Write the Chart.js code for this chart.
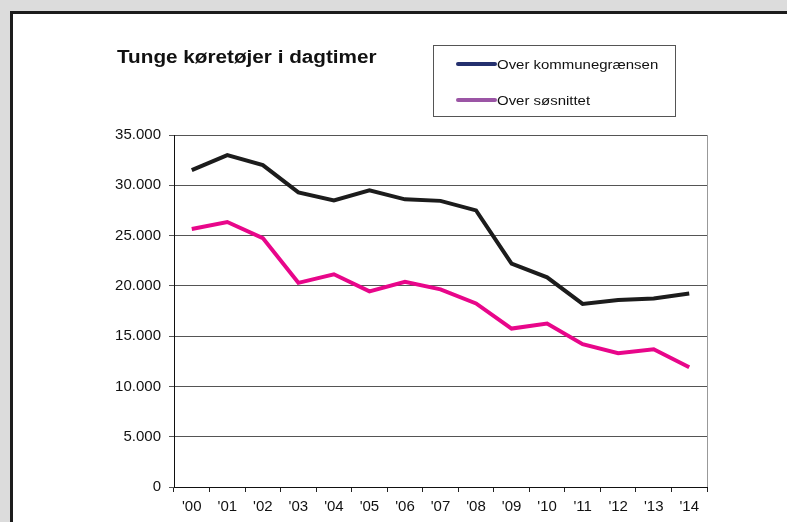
<!DOCTYPE html>
<html lang="da">
<head>
    <meta charset="UTF-8">
    <title>Tunge køretøjer i dagtimer</title>
    <script src="https://cdn.jsdelivr.net/npm/chart.js"></script>
    <style>
        body {
            margin: 0;
            padding: 0;
            background: #dcdcdc;
            width: 787px;
            height: 522px;
            overflow: hidden;
            position: relative;
        }
        #panel {
            position: absolute;
            left: 10px;
            top: 11px;
            width: 800px;
            height: 530px;
            background: #fff;
            border-left: 3px solid #1c1c1c;
            border-top: 3px solid #1c1c1c;
        }
        canvas {
            position: absolute;
            left: 0;
            top: 0;
        }
    </style>
</head>
<body>
    <div id="panel"></div>
    <canvas id="chart" width="787" height="522"></canvas>
    <script>
        const chartTitle = 'Tunge køretøjer i dagtimer';
        const years = ["'00", "'01", "'02", "'03", "'04", "'05", "'06", "'07", "'08", "'09", "'10", "'11", "'12", "'13", "'14"];
        const overKommunegraensen = [31500, 33000, 32000, 29300, 28500, 29500, 28600, 28450, 27500, 22200, 20850, 18200, 18600, 18750, 19250];
        const overSoesnittet = [25650, 26350, 24750, 20300, 21150, 19450, 20400, 19650, 18250, 15750, 16250, 14200, 13300, 13700, 11900];

        // thousands with a dot, danish style
        function fmt(v) {
            return String(v).replace(/\B(?=(\d{3})+(?!\d))/g, '.');
        }

        // title, boxed legend and right frame line
        const decor = {
            id: 'decor',
            afterDraw(chart) {
                const ctx = chart.ctx;
                const area = chart.chartArea;
                ctx.save();

                ctx.strokeStyle = '#999';
                ctx.lineWidth = 1;
                ctx.beginPath();
                ctx.moveTo(area.right + 0.5, area.top);
                ctx.lineTo(area.right + 0.5, area.bottom);
                ctx.stroke();

                ctx.fillStyle = '#111';
                ctx.font = 'bold 18px "Liberation Sans", Arial, sans-serif';
                ctx.textBaseline = 'alphabetic';
                ctx.save();
                ctx.translate(117, 63);
                ctx.scale(1.15, 1);
                ctx.fillText(chartTitle, 0, 0);
                ctx.restore();

                ctx.strokeStyle = '#555';
                ctx.strokeRect(433.5, 45.5, 242, 71);

                ctx.font = '13px "Liberation Sans", Arial, sans-serif';
                ctx.textBaseline = 'middle';
                chart.data.datasets.forEach((ds, i) => {
                    const y = 64 + i * 36;
                    ctx.strokeStyle = ds.legendColor;
                    ctx.lineWidth = 4;
                    ctx.lineCap = 'round';
                    ctx.beginPath();
                    ctx.moveTo(458, y);
                    ctx.lineTo(495, y);
                    ctx.stroke();
                    ctx.fillStyle = '#111';
                    ctx.save();
                    ctx.translate(497, y + 1);
                    ctx.scale(1.15, 1);
                    ctx.fillText(ds.label, 0, 0);
                    ctx.restore();
                });
                ctx.restore();
            }
        };

        new Chart(document.getElementById('chart').getContext('2d'), {
            type: 'line',
            data: {
                labels: years,
                datasets: [
                    {
                        label: 'Over kommunegrænsen',
                        data: overKommunegraensen,
                        borderColor: '#1c1c1c',
                        legendColor: '#24306e',
                        borderWidth: 4,
                        pointRadius: 0,
                        tension: 0,
                        fill: false
                    },
                    {
                        label: 'Over søsnittet',
                        data: overSoesnittet,
                        borderColor: '#e8068a',
                        legendColor: '#9b55a5',
                        borderWidth: 4,
                        pointRadius: 0,
                        tension: 0,
                        fill: false
                    }
                ]
            },
            options: {
                responsive: false,
                animation: false,
                layout: { padding: { top: 135, right: 80, bottom: 0, left: 0 } },
                plugins: {
                    legend: { display: false },
                    title: { display: false },
                    tooltip: { enabled: false }
                },
                scales: {
                    x: {
                        offset: true,
                        afterFit(scale) { scale.height = 35; },
                        grid: {
                            offset: true,
                            drawOnChartArea: false,
                            drawTicks: true,
                            tickLength: 5,
                            color: '#222'
                        },
                        border: { color: '#111', width: 1 },
                        ticks: {
                            color: '#111',
                            padding: 6,
                            maxRotation: 0,
                            autoSkip: false,
                            font: { family: '"Liberation Sans", Arial, sans-serif', size: 15 }
                        }
                    },
                    y: {
                        min: 0,
                        max: 35000,
                        afterFit(scale) { scale.width = 174; },
                        grid: {
                            color: '#555',
                            tickLength: 5
                        },
                        border: { color: '#111', width: 1 },
                        ticks: {
                            stepSize: 5000,
                            color: '#111',
                            padding: 8,
                            font: { family: '"Liberation Sans", Arial, sans-serif', size: 15 },
                            callback: v => fmt(v)
                        }
                    }
                }
            },
            plugins: [decor]
        });
    </script>
</body>
</html>
